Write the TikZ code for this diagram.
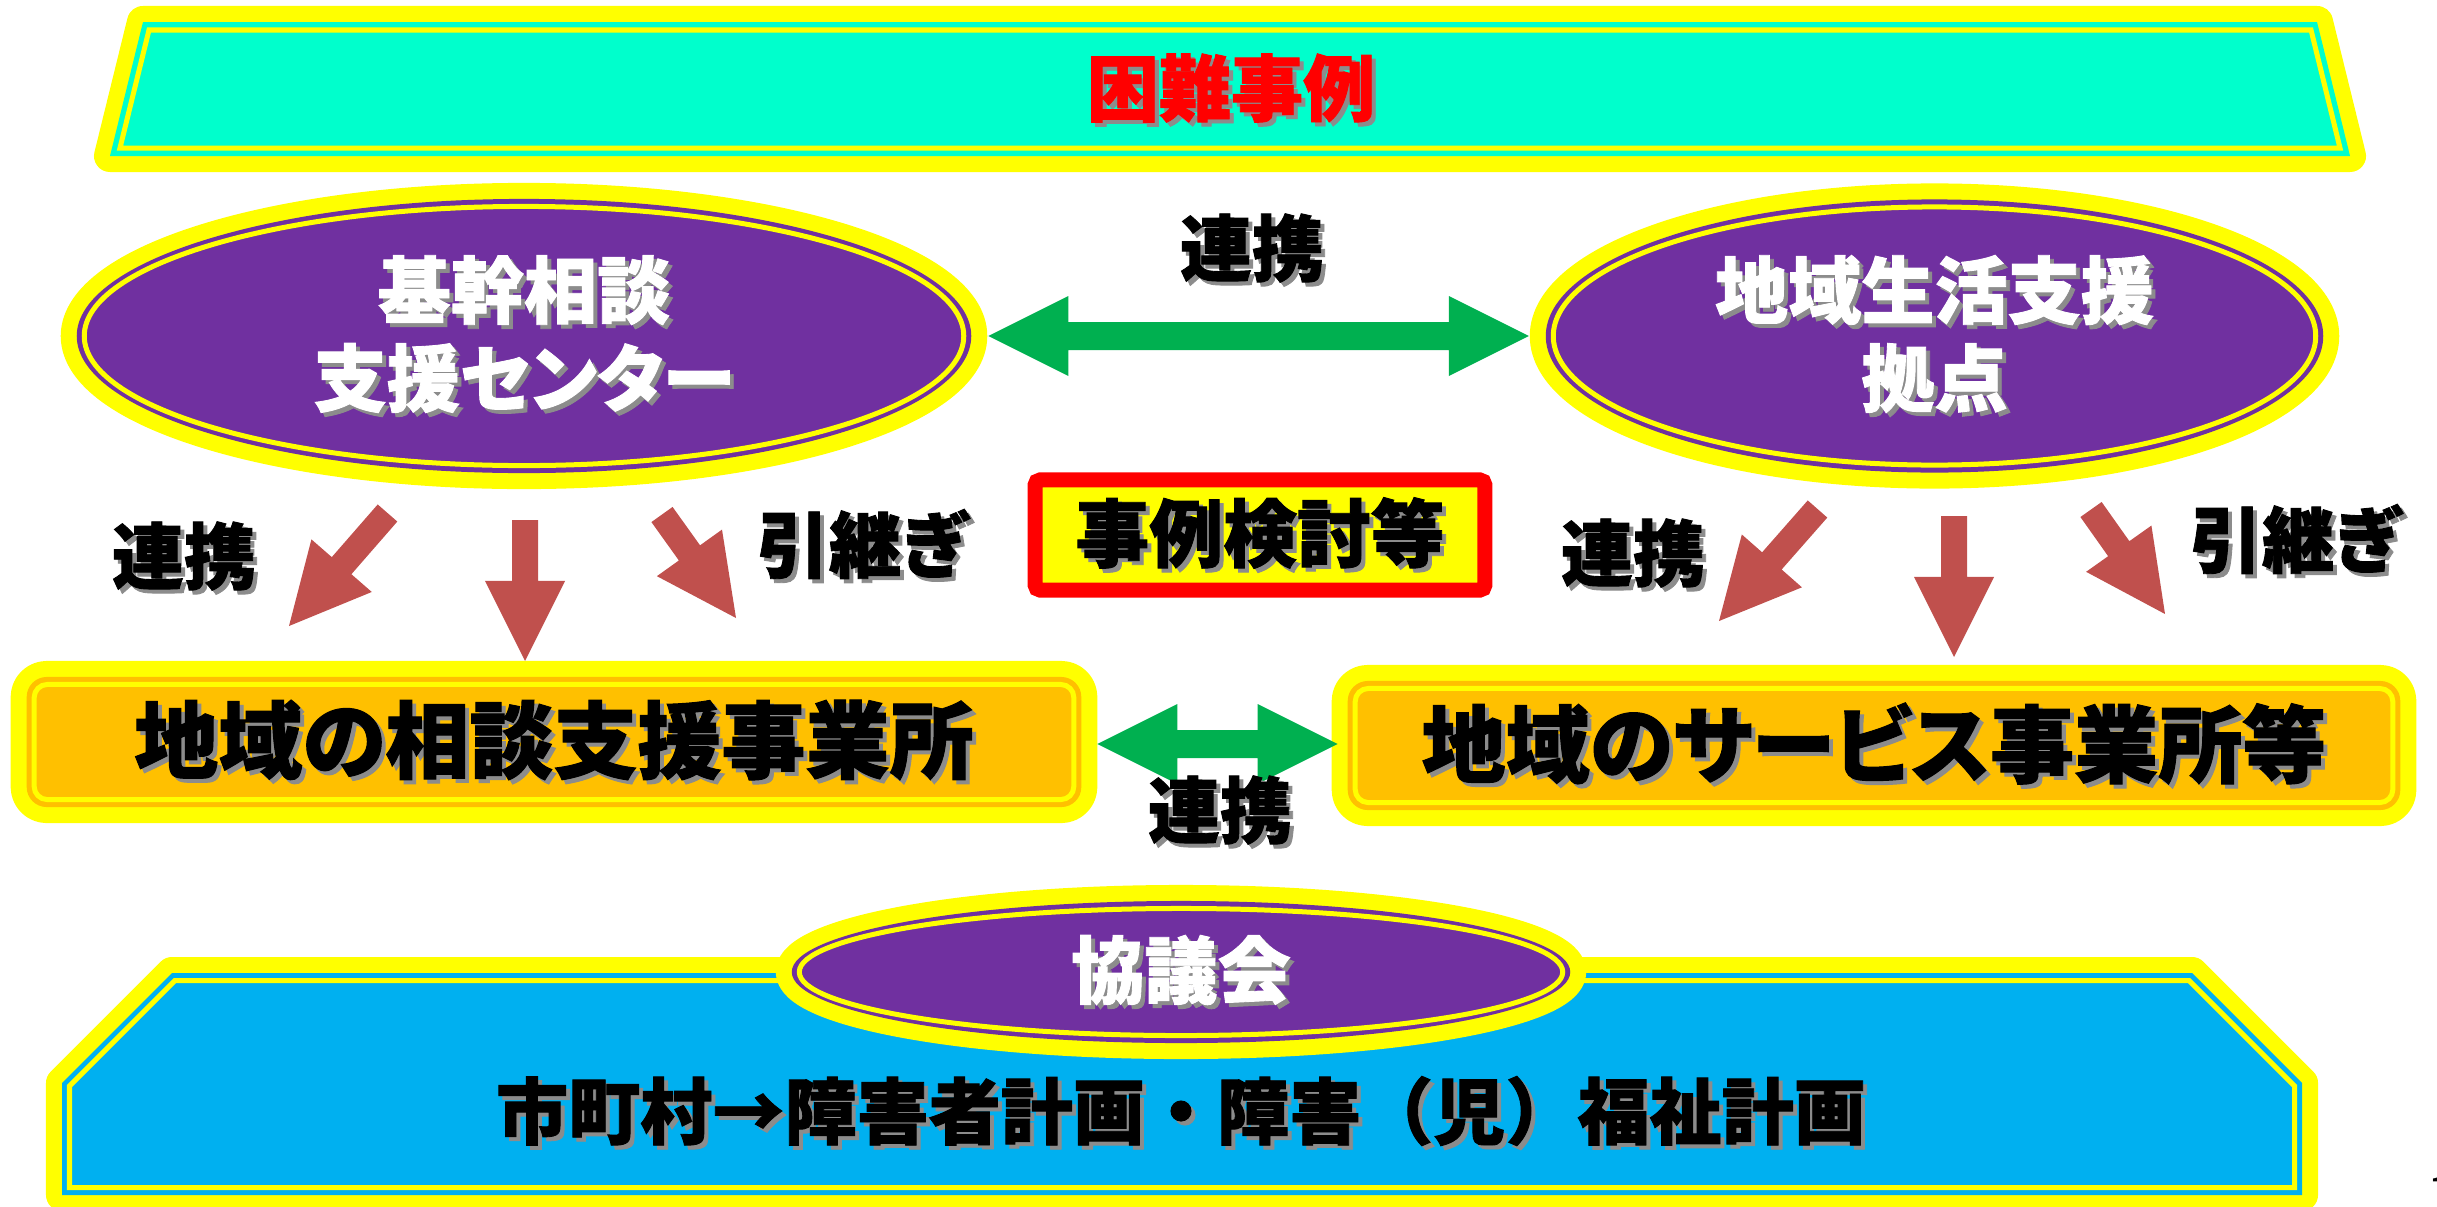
\documentclass[tikz,border=0pt]{standalone}
\usepackage{fontspec}
\newfontfamily\jpfont{Noto Sans CJK JP}[BoldFeatures={FakeBold=1.2}]
\usetikzlibrary{shapes.geometric,positioning,calc}

\definecolor{glowyellow}{HTML}{FFFF00}
\definecolor{bannercyan}{HTML}{00FFCC}
\definecolor{ovalpurple}{HTML}{7030A0}
\definecolor{boxorange}{HTML}{FFC000}
\definecolor{planblue}{HTML}{00B0F0}
\definecolor{linkgreen}{HTML}{00B050}
\definecolor{flowred}{HTML}{C0504D}

\newcommand{\ovalfont}{\jpfont\bfseries\fontsize{20.8}{25}\selectfont}
\newcommand{\labelfont}{\jpfont\bfseries\fontsize{20.5}{20.5}\selectfont}
\newcommand{\officefont}{\jpfont\bfseries\fontsize{23.9}{23.9}\selectfont}
\newcommand{\planfont}{\jpfont\bfseries\fontsize{20.5}{20.5}\selectfont}
\newcommand{\narrow}{\addfontfeatures{RawFeature=+palt}}
% text with a soft drop shadow
\newcommand{\shad}[1]{\makebox[0pt][l]{\hspace{0.04cm}\raisebox{-0.04cm}{\color{black!45}#1}}#1}

% block arrow: tail, tip
\newcommand{\flowarrow}[2]{%
  \path ($(#2)!0.8cm!(#1)$) coordinate (hb);
  \fill[flowred] ($(#1)!0.13cm!90:(#2)$) -- ($(hb)!0.13cm!90:(#2)$)
    -- ($(hb)!0.4cm!90:(#2)$) -- (#2) -- ($(hb)!0.4cm!-90:(#2)$)
    -- ($(hb)!0.13cm!-90:(#2)$) -- ($(#1)!0.13cm!-90:(#2)$) -- cycle;}
% horizontal double arrow: left tip, right tip
\newcommand{\linkarrow}[2]{%
  \fill[linkgreen] (#1) -- ++(80,-40) -- ++(0,26) -- ($(#2)+(-80,-14)$)
    -- ++(0,-26) -- (#2) -- ++(-80,40) -- ++(0,-26) -- ($(#1)+(80,14)$)
    -- ++(0,26) -- cycle;}

\tikzset{
  glow/.style={draw=glowyellow, line width=0.32cm, line join=round},
  ring/.style={draw=glowyellow, line width=0.05cm},
  oval/.style={ellipse, fill=ovalpurple, preaction={glow}, inner sep=0,
    outer sep=0, text=white, align=center, font=\ovalfont\narrow},
  officebox/.style={rectangle, rounded corners=0.2cm, fill=boxorange,
    preaction={glow}, inner sep=0, outer sep=0, font=\officefont\narrow},
  casebox/.style={rectangle, draw=red, line width=0.15cm, fill=glowyellow,
    rounded corners=0.05cm, inner sep=0, outer sep=0,
    font=\labelfont\fontsize{21}{21}\selectfont},
  linklabel/.style={inner sep=0, font=\labelfont\narrow}
}

\begin{document}
\begin{tikzpicture}[x=0.01cm, y=-0.01cm]

      \useasboundingbox (0,0) rectangle (2437,1206);

      % title banner
      \path[preaction={glow}, fill=bannercyan]
        (143,22) -- (2317,22) -- (2350,156) -- (110,156) -- cycle;
      \draw[ring] (149,30) -- (2311,30) -- (2340,148) -- (120,148) -- cycle;
      \node[inner sep=0, text=red, font=\labelfont] (konnan) at (1231,90) {\shad{困難事例}};

      % the two centres
      \node[oval, minimum width=8.94cm, minimum height=2.74cm] (kikan) at (524,336)
        {\shad{基幹相談}\\\shad{支援センター}};
      \node[oval, minimum width=7.77cm, minimum height=2.73cm] (kyoten) at (1934.5,336)
        {\shad{地域生活支援}\\\shad{拠点}};
      \draw[ring] (kikan.center) ellipse [x radius=4.395cm, y radius=1.295cm];
      \draw[ring] (kyoten.center) ellipse [x radius=3.81cm, y radius=1.29cm];

      \coordinate (K0) at ($(kikan.east)+(17,0)$);
      \coordinate (K1) at ($(kyoten.west)+(-17,0)$);
      \linkarrow{K0}{K1}
      \node[linklabel] (renkei0) at (1252,250) {\shad{連携}};

      \node[casebox, minimum width=4.495cm, minimum height=1.1cm] (jirei) at (1260,535)
        {\shad{事例検討等}};

      % arrows down to the offices
      \coordinate (LA0) at (387.5,513);  \coordinate (LA1) at (289,626);
      \coordinate (LB0) at (525,520);    \coordinate (LB1) at (525,661);
      \coordinate (LC0) at (662,514.5);  \coordinate (LC1) at (736,618);
      \coordinate (RA0) at (1817.5,509); \coordinate (RA1) at (1719,621);
      \coordinate (RB0) at (1954,516);   \coordinate (RB1) at (1954,657);
      \coordinate (RC0) at (2091,509.5); \coordinate (RC1) at (2165,614);
      \flowarrow{LA0}{LA1}
      \flowarrow{LB0}{LB1}
      \flowarrow{LC0}{LC1}
      \flowarrow{RA0}{RA1}
      \flowarrow{RB0}{RB1}
      \flowarrow{RC0}{RC1}

      \node[linklabel] (renkei1) at (184,558)  {\shad{連携}};
      \node[linklabel] (hikitsugi1) at (862,546) {\shad{引継ぎ}};
      \node[linklabel] (renkei2) at (1633,555) {\shad{連携}};
      \node[linklabel] (hikitsugi2) at (2295,541) {\shad{引継ぎ}};

      % the offices
      \node[officebox, minimum width=10.54cm, minimum height=1.3cm] (soudan) at (554,742)
        {\shad{地域の相談支援事業所}};
      \node[officebox, minimum width=10.52cm, minimum height=1.29cm] (service) at (1874,745.5)
        {\shad{地域のサービス事業所等}};
      \draw[ring, rounded corners=0.13cm] ($(soudan.north west)+(7.5,7.5)$)
        rectangle ($(soudan.south east)+(-7.5,-7.5)$);
      \draw[ring, rounded corners=0.13cm] ($(service.north west)+(7.5,7.5)$)
        rectangle ($(service.south east)+(-7.5,-7.5)$);

      \coordinate (S0) at ($(soudan.east)+(16,2)$);
      \coordinate (S1) at ($(service.west)+(-10,-1.5)$);
      \linkarrow{S0}{S1}
      \node[linklabel] (renkei3) at (1220,812) {\shad{連携}};

      % plan box and council
      \path[preaction={glow}, fill=planblue]
        (62,1195) -- (62,1083) -- (172,973) -- (2192,973) -- (2302,1083)
        -- (2302,1195) -- cycle;
      \draw[ring] (69.5,1187.5) -- (69.5,1086) -- (175,980.5) -- (2189,980.5)
        -- (2294.5,1086) -- (2294.5,1187.5) -- cycle;
      \node[oval, minimum width=7.78cm, minimum height=1.42cm] (kyogikai) at (1181,972)
        {\shad{協議会}};
      \draw[ring] (kyogikai.center) ellipse [x radius=3.815cm, y radius=0.635cm];
      \node[inner sep=0, font=\planfont] (keikaku) at (1181,1113)
        {\shad{市町村→障害者計画・障害（児）福祉計画}};

      \node[anchor=north west, inner sep=0, font=\jpfont\fontsize{14}{14}\selectfont]
        (pageno) at (2427,1176) {1};
\end{tikzpicture}
\end{document}
